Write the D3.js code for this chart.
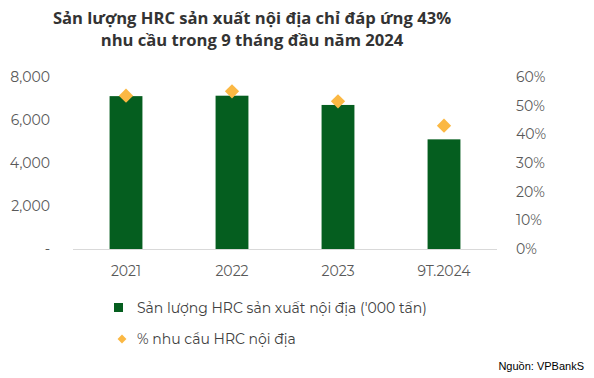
<!DOCTYPE html>
<html>
<head>
<meta charset="utf-8">
<script src="https://cdn.jsdelivr.net/npm/d3@7"></script>
<style>
  body { margin: 0; background: #fff; }
  svg { display: block; }
</style>
</head>
<body>
<svg id="chart" width="594" height="378"></svg>
<script>
// dữ liệu
const categories = ["2021", "2022", "2023", "9T.2024"];
const production = [7110, 7130, 6700, 5100];   // '000 tấn
const demandShare = [0.535, 0.55, 0.515, 0.43]; // % nhu cầu
const leftTicks = [0, 2000, 4000, 6000, 8000];
const rightTicks = [0, 0.1, 0.2, 0.3, 0.4, 0.5, 0.6];

const svg = d3.select("#chart");
const margin = { top: 77, left: 73, right: 97, bottom: 129 };
const width = +svg.attr("width"), height = +svg.attr("height");
const x0 = margin.left, x1 = width - margin.right;
const y0 = height - margin.bottom, y1 = margin.top;

const xScale = d3.scaleBand().domain(categories).range([x0, x1]).paddingInner(0.69).paddingOuter(0.345);
const yLeft = d3.scaleLinear().domain([0, 8000]).range([y0, y1]);
const yRight = d3.scaleLinear().domain([0, 0.6]).range([y0, y1]);

const font = "Montserrat, 'Open Sans', sans-serif";

// tiêu đề
const title = svg.append("text")
    .attr("x", 252).attr("y", 24)
    .attr("text-anchor", "middle")
    .style("font-family", "'Open Sans', sans-serif")
    .style("font-weight", "bold")
    .style("font-size", "16.6px")
    .style("fill", "#333");
title.append("tspan").attr("x", 252).attr("dy", 0).text("Sản lượng HRC sản xuất nội địa chỉ đáp ứng 43%");
title.append("tspan").attr("x", 252).attr("dy", 22).text("nhu cầu trong 9 tháng đầu năm 2024");

// trục trái
svg.append("g")
    .attr("transform", `translate(${x0 - 20},0)`)
    .call(d3.axisLeft(yLeft).tickValues(leftTicks).tickSize(0)
        .tickFormat(d => d === 0 ? "-" : d3.format(",")(d)))
    .call(g => g.select(".domain").remove())
    .selectAll("text")
    .style("font-family", font).style("font-size", "14px").style("fill", "#595959");

// trục phải
svg.append("g")
    .attr("transform", `translate(${x1 + 16},0)`)
    .call(d3.axisRight(yRight).tickValues(rightTicks).tickSize(0).tickFormat(d3.format(".0%")))
    .call(g => g.select(".domain").remove())
    .selectAll("text")
    .style("font-family", font).style("font-size", "14px").style("fill", "#595959");

// cột
svg.append("g").selectAll("rect")
    .data(production)
    .join("rect")
    .attr("x", (d, i) => xScale(categories[i]))
    .attr("y", d => yLeft(d))
    .attr("width", xScale.bandwidth())
    .attr("height", d => y0 - yLeft(d))
    .attr("fill", "#055e1f");

// đường gốc
svg.append("line")
    .attr("x1", x0).attr("x2", x1)
    .attr("y1", y0 + 0.5).attr("y2", y0 + 0.5)
    .attr("stroke", "#d9d9d9");

// trục x
svg.append("g")
    .attr("transform", `translate(0,${y0 + 14})`)
    .call(d3.axisBottom(xScale).tickSize(0))
    .call(g => g.select(".domain").remove())
    .selectAll("text")
    .style("font-family", font).style("font-size", "14px").style("fill", "#595959");

// điểm %
const diamond = d3.symbol().type(d3.symbolDiamond2).size(130);
svg.append("g").selectAll("path")
    .data(demandShare)
    .join("path")
    .attr("d", diamond)
    .attr("transform", (d, i) => `translate(${xScale(categories[i]) + xScale.bandwidth() / 2},${yRight(d)})`)
    .attr("fill", "#fbb843");

// chú thích
const legend = svg.append("g").style("font-family", font).style("font-size", "14px").style("fill", "#404040");
legend.append("rect").attr("x", 114).attr("y", 303).attr("width", 9).attr("height", 9).attr("fill", "#055e1f");
legend.append("text").attr("x", 137).attr("y", 308).attr("dy", "0.35em").text("Sản lượng HRC sản xuất nội địa ('000 tấn)");
legend.append("path").attr("d", d3.symbol().type(d3.symbolDiamond2).size(50))
    .attr("transform", "translate(122,339)").attr("fill", "#fbb843");
legend.append("text").attr("x", 137).attr("y", 339).attr("dy", "0.35em").text("% nhu cầu HRC nội địa");

// nguồn
svg.append("text")
    .attr("x", 584).attr("y", 370)
    .attr("text-anchor", "end")
    .style("font-family", "'Liberation Sans', Arial, sans-serif")
    .style("font-size", "11px")
    .style("fill", "#000")
    .text("Nguồn: VPBankS");
</script>
</body>
</html>
